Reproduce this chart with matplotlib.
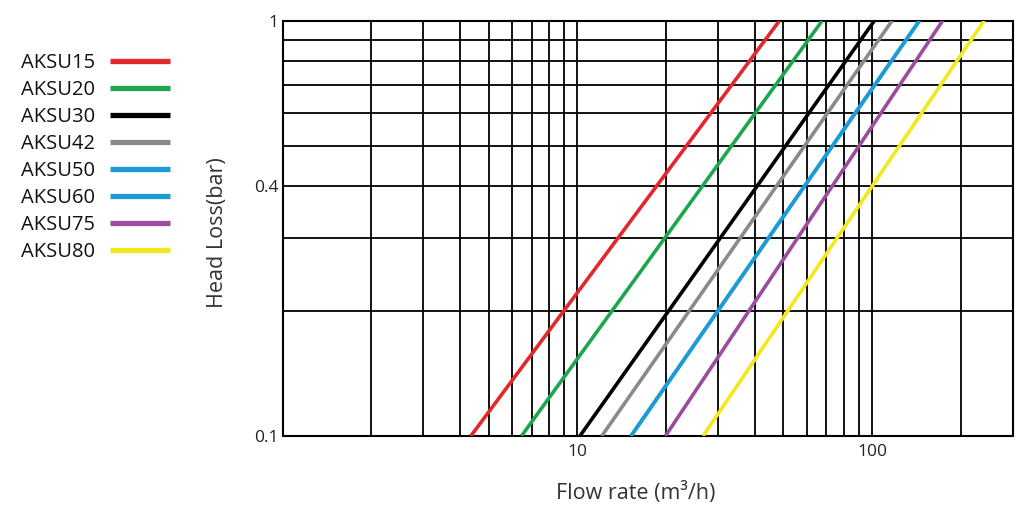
import matplotlib
matplotlib.use("Agg")
import matplotlib.pyplot as plt
from matplotlib.ticker import FixedLocator, NullFormatter, NullLocator

plt.rcParams['font.family'] = ['Open Sans', 'DejaVu Sans']

# Data
models = ["AKSU15", "AKSU20", "AKSU30", "AKSU42", "AKSU50", "AKSU60", "AKSU75", "AKSU80"]
head_loss = [0.1, 1.0]  # bar
flow_at_low = [4.35, 6.46, 10.2, 12.1, 15.2, 15.2, 19.9, 26.7]    # m3/h at 0.1 bar
flow_at_high = [48.5, 67.7, 101.8, 116.9, 144.7, 144.7, 173.5, 240.0]  # m3/h at 1 bar
colors = ["#e3272b", "#1ea64f", "#000000", "#8a8a8a", "#1d9bd7", "#1d9bd7", "#9a4d9e", "#f4e81d"]

x_ticks = [10, 100]
x_ticklabels = ["10", "100"]
y_ticks = [0.1, 0.4, 1]
y_ticklabels = ["0.1", "0.4", "1"]
x_grid = [2, 3, 4, 5, 6, 7, 8, 9, 10, 20, 30, 40, 50, 60, 70, 80, 90, 100, 200]
y_grid = [0.2, 0.3, 0.4, 0.5, 0.6, 0.7, 0.8, 0.9]

fig = plt.figure(figsize=(10.24, 5.12), dpi=100)
ax = fig.add_axes([0.276, 0.1484, 0.713, 0.8112])
ax.set_xscale('log')
ax.set_yscale('log')
ax.set_xlim(1, 300)
ax.set_ylim(0.1, 1)

for xg in x_grid:
    ax.axvline(xg, color='black', lw=1.3, zorder=1)
for yg in y_grid:
    ax.axhline(yg, color='black', lw=1.3, zorder=1)

handles = []
for name, q0, q1, c in zip(models, flow_at_low, flow_at_high, colors):
    h, = ax.plot([q0, q1], head_loss, color=c, lw=2.6, solid_capstyle='butt', zorder=3, label=name)
    handles.append(h)

ax.xaxis.set_major_locator(FixedLocator(x_ticks))
ax.set_xticklabels(x_ticklabels)
ax.xaxis.set_minor_locator(NullLocator())
ax.xaxis.set_minor_formatter(NullFormatter())
ax.yaxis.set_major_locator(FixedLocator(y_ticks))
ax.set_yticklabels(y_ticklabels)
ax.yaxis.set_minor_locator(NullLocator())
ax.yaxis.set_minor_formatter(NullFormatter())
ax.tick_params(axis='both', length=0, labelsize=12.5, colors='#222222')
ax.tick_params(axis='x', pad=6)
ax.tick_params(axis='y', pad=3)

for s in ax.spines.values():
    s.set_color('black')
    s.set_linewidth(1.5)

ax.set_xlabel("Flow rate (m³/h)", fontsize=15.5, color='#333333')
ax.xaxis.set_label_coords(0.483, -0.11)
ax.set_ylabel("Head Loss(bar)", fontsize=15.5, color='#333333')
ax.yaxis.set_label_coords(-0.075, 0.49)

leg = fig.legend(handles, models, loc='upper left', bbox_to_anchor=(0.013, 0.912),
                 frameon=False, markerfirst=False, fontsize=14.5, handlelength=3.0,
                 handletextpad=0.7, labelspacing=0.35, borderaxespad=0)
for line in leg.get_lines():
    line.set_linewidth(3.8)
for t in leg.get_texts():
    t.set_color('#111111')

fig.savefig("out.png", dpi=100)
